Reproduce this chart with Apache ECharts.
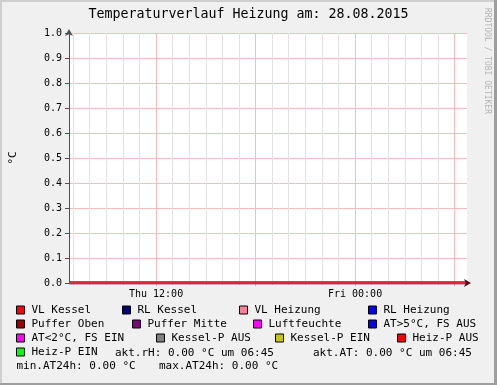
<!DOCTYPE html>
<html><head><meta charset="utf-8">
<script src="https://cdn.jsdelivr.net/npm/echarts@6/dist/echarts.min.js"></script>
<style>html,body{margin:0;padding:0;background:#f0f0f0}#c{width:497px;height:385px}</style>
</head><body><div id="c"></div>
<script>
// ---- data ----
const titleText = 'Temperaturverlauf Heizung am: 28.08.2015';
const yAxisName = '°C';
const watermark = 'RRDTOOL / TOBI OETIKER';
const xMin = 6.75, xMax = 30.75;           // hours since Thu 00:00
const timeHours = [6.75, 12, 18, 24, 30.75];
const seriesNames = ['VL Kessel','RL Kessel','VL Heizung','RL Heizung','Puffer Oben','Puffer Mitte','Luftfeuchte','AT>5°C, FS AUS','AT<2°C, FS EIN','Kessel-P AUS','Kessel-P EIN','Heiz-P AUS','Heiz-P EIN'];
const seriesColors = ['#ff0000','#000080','#ff8096','#0000ff','#a00000','#800080','#ff00ff','#0000ff','#ff00ff','#808080','#c8c800','#ff0000','#00ff00'];
const vlKessel    = [0,0,0,0,0];
const rlKessel    = [0,0,0,0,0];
const vlHeizung   = [0,0,0,0,0];
const rlHeizung   = [0,0,0,0,0];
const pufferOben  = [0,0,0,0,0];
const pufferMitte = [0,0,0,0,0];
const luftfeuchte = [0,0,0,0,0];
const atGt5       = [0,0,0,0,0];
const atLt2       = [0,0,0,0,0];
const kesselPAus  = [0,0,0,0,0];
const kesselPEin  = [0,0,0,0,0];
const heizPAus    = [0,0,0,0,0];
const heizPEin    = [0,0,0,0,0];
const seriesValues = [vlKessel,rlKessel,vlHeizung,rlHeizung,pufferOben,pufferMitte,luftfeuchte,atGt5,atLt2,kesselPAus,kesselPEin,heizPAus,heizPEin];
const minorHours = [7,8,9,10,11,13,14,15,16,17,19,20,21,22,23,25,26,27,28,29];
const majorHours = [12,18,24,30];
const xLabelHours = [12,24];
const xLabelTexts = ['Thu 12:00','Fri 00:00'];
const yMin = 0, yMax = 1, yStep = 0.1;
const aktRH = 0.00, aktAT = 0.00, minAT24h = 0.00, maxAT24h = 0.00, aktTime = '06:45';

// ---- layout ----
const MONO = 'DejaVu Sans Mono';
const legendPos = [
  [16,311.5],[122,311.5],[239,311.5],[368,311.5],
  [16,325.5],[132,325.5],[253,325.5],[368,325.5],
  [16,339.5],[156,339.5],[275,339.5],[397,339.5],
  [16,353.5]
];
// drawing order (last = top line)
const drawOrder = [12,10,9,6,8,7,3,4,5,1,0,2,11];

const chart = echarts.init(document.getElementById('c'), null, {renderer:'canvas'});
const legends = seriesNames.map((n,i)=>({
  data:[n], left:legendPos[i][0], top:legendPos[i][1]-7, padding:0,
  itemWidth:8, itemHeight:8, icon:'rect', selectedMode:false,
  itemStyle:{borderColor:'#000', borderWidth:1, opacity:1},
  textStyle:{fontFamily:MONO, fontSize:11, color:'#000', padding:[0,0,0,2]}
}));
const series = drawOrder.map(i=>({
  name:seriesNames[i], type:'line', xAxisIndex:0, yAxisIndex:0,
  data: timeHours.map((t,k)=>[t, seriesValues[i][k]]),
  showSymbol:false, symbol:'none', animation:false,
  lineStyle:{color:seriesColors[i], width:2.5, opacity:0.5}, itemStyle:{color:seriesColors[i]}
}));
const fmt = v => v.toFixed(2);
chart.setOption({
  backgroundColor:'#f0f0f0',
  animation:false,
  title:{text:titleText, left:'center', top:8, padding:0,
    textStyle:{fontFamily:MONO, fontSize:13.3, fontWeight:'normal', color:'#000'}},
  grid:{left:67, top:33, width:400, height:250, show:true, backgroundColor:'#ffffff', borderWidth:0, containLabel:false},
  legend:legends,
  xAxis:[{
    type:'value', min:xMin, max:xMax, position:'bottom', z:3,
    axisLine:{show:true, lineStyle:{color:'#501010', width:1}, symbol:['none','arrow'], symbolSize:[6,7], symbolOffset:[0,4]},
    axisTick:{show:true, length:2, inside:false, customValues:minorHours, lineStyle:{color:'#c8c8c8'}},
    splitLine:{show:true, lineStyle:{color:'#e2e2e2', width:1}},
    axisLabel:{show:true, customValues:xLabelHours, margin:6, fontFamily:MONO, fontSize:10, color:'#000',
      formatter:v=>xLabelTexts[xLabelHours.indexOf(v)] || ''}
  },{
    type:'value', min:xMin, max:xMax, position:'bottom', z:2,
    axisLine:{show:false},
    axisTick:{show:true, length:3, customValues:majorHours, lineStyle:{color:'#f0a0a0'}},
    splitLine:{show:true, lineStyle:{color:'#f6bcbc', width:1}},
    axisLabel:{show:false}
  }],
  yAxis:[{
    type:'value', min:yMin, max:yMax, interval:yStep,
    name:yAxisName, nameLocation:'middle', nameGap:50, nameRotate:90,
    nameTextStyle:{fontFamily:MONO, fontSize:11, color:'#000'},
    axisLine:{show:true, lineStyle:{color:'#505050', width:1}, symbol:['none','arrow'], symbolSize:[6,7], symbolOffset:[0,4]},
    axisTick:{show:true, length:4, lineStyle:{color:'#505050'}},
    splitLine:{show:true, lineStyle:{color:'#f6bcbc', width:1}},
    axisLabel:{margin:7, fontFamily:MONO, fontSize:10, color:'#000', formatter:v=>v.toFixed(1)}
  }],
  series:series,
  graphic:[
    {type:'rect', shape:{x:0,y:0,width:497,height:2}, style:{fill:'#cfcfcf'}, silent:true},
    {type:'rect', shape:{x:0,y:0,width:2,height:385}, style:{fill:'#cfcfcf'}, silent:true},
    {type:'rect', shape:{x:494,y:0,width:3,height:385}, style:{fill:'#9e9e9e'}, silent:true},
    {type:'rect', shape:{x:0,y:383,width:497,height:2}, style:{fill:'#9e9e9e'}, silent:true},
    {type:'text', x:487, y:8, rotation:-Math.PI/2, silent:true,
      style:{text:watermark, fill:'#b4b4b4', font:'8px "DejaVu Sans Mono"', textAlign:'left', textVerticalAlign:'middle'}},
    {type:'text', x:115, y:353.5, silent:true,
      style:{text:'akt.rH: '+fmt(aktRH)+' °C um '+aktTime, fill:'#000', font:'11px "DejaVu Sans Mono"', textAlign:'left', textVerticalAlign:'middle'}},
    {type:'text', x:313, y:353.5, silent:true,
      style:{text:'akt.AT: '+fmt(aktAT)+' °C um '+aktTime, fill:'#000', font:'11px "DejaVu Sans Mono"', textAlign:'left', textVerticalAlign:'middle'}},
    {type:'text', x:16.5, y:366.5, silent:true,
      style:{text:'min.AT24h: '+fmt(minAT24h)+' °C', fill:'#000', font:'11px "DejaVu Sans Mono"', textAlign:'left', textVerticalAlign:'middle'}},
    {type:'text', x:159, y:366.5, silent:true,
      style:{text:'max.AT24h: '+fmt(maxAT24h)+' °C', fill:'#000', font:'11px "DejaVu Sans Mono"', textAlign:'left', textVerticalAlign:'middle'}}
  ]
});
</script></body></html>
